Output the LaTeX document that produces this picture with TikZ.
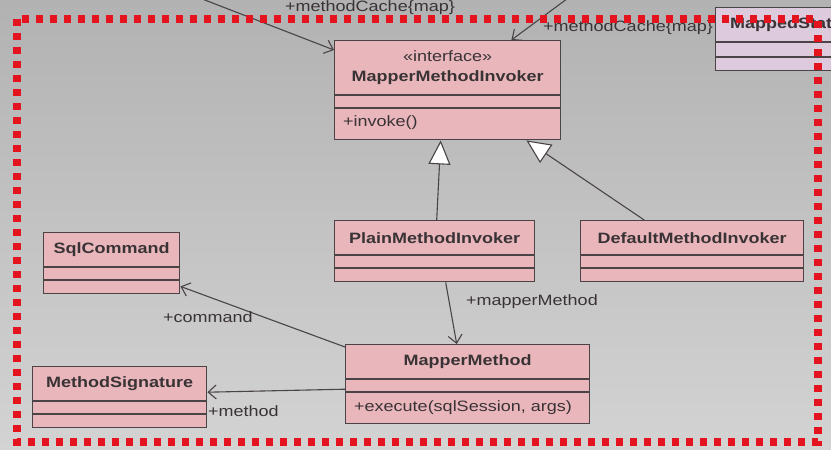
\documentclass[tikz,border=0pt]{standalone}
\usepackage{fontspec}
\setmainfont{Liberation Sans}[FakeStretch=1.2]
\usepackage{xcolor}
\definecolor{cPink}{HTML}{E8B6BB}
\definecolor{cLilac}{HTML}{DDCBDD}
\definecolor{cLine}{HTML}{4A4446}
\definecolor{cText}{HTML}{3A3336}
\definecolor{cFrame}{HTML}{E3141E}
\definecolor{cBgTop}{HTML}{B2B2B2}
\definecolor{cBgBot}{HTML}{D3D3D3}
\usepackage{tikz}
\usetikzlibrary{positioning,arrows.meta,calc}
\tikzset{
  cls-box/.style={draw=cLine,fill=cPink,line width=1.4pt,anchor=north west,inner sep=0pt},
  cls-name/.style={font=\fontsize{15}{18}\selectfont\bfseries,text=cText,inner sep=0pt},
  cls-text/.style={text=cText,inner sep=0pt},
  cls-div/.style={draw=cLine,line width=1.4pt},
  % navigable association: open barb; generalisation: hollow triangle
  arrow-assoc/.style={-{Straight Barb[length=8pt,width=14pt]},line width=1.1pt,draw=cLine},
  arrow-inherit/.style={-{Triangle[length=24pt,width=22pt,fill=white]},line width=1.1pt,draw=cLine},
  role-label/.style={text=cText,inner sep=0pt,anchor=west},
  frame-dots/.style={draw=cFrame,line width=8pt,dash pattern=on 7pt off 7pt},
}

\begin{document}
\begin{tikzpicture}[x=1pt,y=-1pt,font=\fontsize{15}{18}\selectfont]
  \clip (0,0) rectangle (831,450);
  \fill[top color=cBgTop,bottom color=cBgBot] (0,0) rectangle (831,450);
  % interface
  \node[cls-box,minimum width=226,minimum height=99] (invoker) at (334,40) {};
  \node[cls-text] (invoker-st) at ($(invoker.north)+(0,16)$) {«interface»};
  \node[cls-name] (invoker-nm) at ($(invoker.north)+(0,38)$) {MapperMethodInvoker};
  \draw[cls-div] ($(invoker.north west)+(0,55)$) -- ($(invoker.north east)+(0,55)$);
  \draw[cls-div] ($(invoker.north west)+(0,68)$) -- ($(invoker.north east)+(0,68)$);
  \node[cls-text,anchor=west] (invoker-op) at ($(invoker.north west)+(9,83)$) {+invoke()};
  % plain classes
  \foreach \id/\x/\y/\w/\name in {sql/43/232/136/SqlCommand,
      sig/32/366/174/MethodSignature,
      plain/334/220/200/PlainMethodInvoker,
      default/580/220/223/DefaultMethodInvoker} {
    \node[cls-box,minimum width=\w,minimum height=61] (\id) at (\x,\y) {};
    \node[cls-name] (\id-nm) at ($(\id.north)+(0,18)$) {\name};
    \draw[cls-div] ($(\id.north west)+(0,35)$) -- ($(\id.north east)+(0,35)$);
    \draw[cls-div] ($(\id.north west)+(0,48)$) -- ($(\id.north east)+(0,48)$);
  }
  \node[cls-box,minimum width=244,minimum height=79] (mapper) at (345,344) {};
  \node[cls-name] (mapper-nm) at ($(mapper.north)+(0,18)$) {MapperMethod};
  \draw[cls-div] ($(mapper.north west)+(0,35)$) -- ($(mapper.north east)+(0,35)$);
  \draw[cls-div] ($(mapper.north west)+(0,48)$) -- ($(mapper.north east)+(0,48)$);
  \node[cls-text,anchor=west] (mapper-op) at ($(mapper.north west)+(9,64)$) {+execute(sqlSession, args)};
  % cut off at the right edge
  \node[cls-box,fill=cLilac,minimum width=200,minimum height=63] (mapped) at (715,7) {};
  \node[cls-name,anchor=west] (mapped-nm) at ($(mapped.north west)+(15,18)$) {MappedStatement};
  \draw[cls-div] ($(mapped.north west)+(0,35)$) -- ($(mapped.north east)+(0,35)$);
  \draw[cls-div] ($(mapped.north west)+(0,50)$) -- ($(mapped.north east)+(0,50)$);
  % connectors
  \coordinate (cache-a) at (179,-10);
  \coordinate (cache-b) at (579,-10);
  \draw[arrow-assoc] (cache-a) -- ($(invoker.north west)+(0,10)$);
  \draw[arrow-assoc] (cache-b) -- ($(invoker.north east)+(-50,0)$);
  \draw[arrow-inherit] ($(plain.north)+(2,0)$) -- ($(invoker.south)+(-7,0)$);
  \draw[arrow-inherit] ($(default.north)+(-48,0)$) -- ($(invoker.south east)+(-35,0)$);
  \draw[arrow-assoc] ($(plain.south)+(11,0)$) -- ($(mapper.north)+(-11,0)$);
  \draw[arrow-assoc] ($(mapper.north west)+(0,3)$) -- ($(sql.south east)+(0,-8)$);
  \draw[arrow-assoc] ($(mapper.west)+(0,5)$) -- ($(sig.east)+(0,-5)$);
  \node[role-label,anchor=base west] (lbl-cache-a) at (285,11) {+methodCache\{map\}};
  \node[role-label,anchor=base west] (lbl-cache-b) at (543,31) {+methodCache\{map\}};
  \node[role-label] (lbl-mm) at (466,302) {+mapperMethod};
  \node[role-label] (lbl-cmd) at (163,317) {+command};
  \node[role-label] (lbl-sig) at (208,411) {+method};
  \draw[frame-dots] (17,19) rectangle (818,442);
\end{tikzpicture}
\end{document}
